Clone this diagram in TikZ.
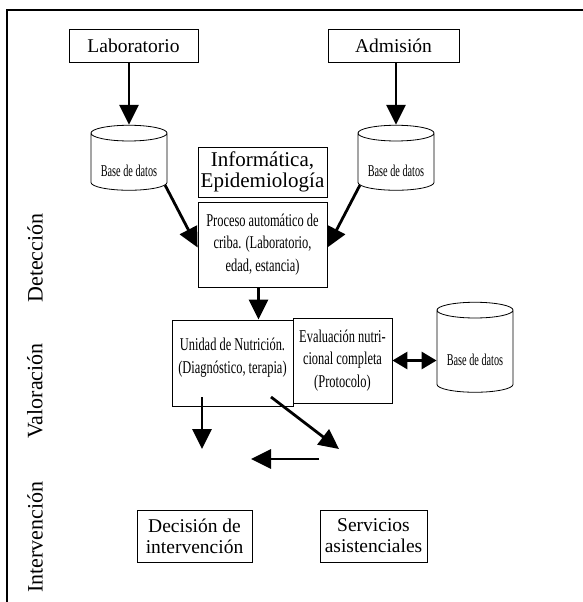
\documentclass[tikz,border=0pt]{standalone}
\usepackage{fontspec}
\setmainfont{Liberation Serif}
\newfontfamily\narrowfont{Liberation Serif}[FakeStretch=0.69]
\newfontfamily\dbfont{Liberation Serif}[FakeStretch=0.62]
\usetikzlibrary{shapes.geometric, arrows.meta}

\begin{document}
\begin{tikzpicture}[
    x=1pt, y=-1pt,
    box/.style={draw, rectangle, line width=0.8pt, align=center, inner sep=2pt},
    bigtext/.style={font=\fontsize{19.5}{21}\selectfont},
    smalltext/.style={font=\narrowfont\fontsize{18}{22.5}\selectfont},
    db/.style={draw, cylinder, shape border rotate=90, aspect=0.25, line width=0.8pt,
               minimum width=76pt, text height=26pt, font=\dbfont\fontsize{16.5}{18}\selectfont},
    side/.style={rotate=90, font=\fontsize{22}{23}\selectfont},
    arr/.style={line width=2.8pt, -{Triangle[length=20pt, width=19pt]}},
    darr/.style={line width=2.8pt, {Triangle[length=15pt, width=17pt]}-{Triangle[length=15pt, width=17pt]}}
]
    \useasboundingbox (0,0) rectangle (583,602);

    % frame
    \draw[line width=1.2pt] (583,10) -- (7,10) -- (7,602);

    % sources
    \node[box, bigtext, minimum width=129pt, minimum height=33pt] (lab) at (133.5,45.5) {Laboratorio};
    \node[box, bigtext, minimum width=131pt, minimum height=33pt] (adm) at (393.5,45.5) {Admisión};

    \node[db, minimum height=65pt] (db1) at (129,163.5) {Base de datos};
    \node[db, minimum height=65pt] (db2) at (396,163.5) {Base de datos};

    % detection
    \node[box, font=\fontsize{21}{21}\selectfont, minimum width=129pt, minimum height=50pt] (info) at (262.5,172)
        {Informática,\\Epidemiología};
    \node[box, smalltext, minimum width=129pt, minimum height=85pt] (proc) at (262.5,244.5)
        {Proceso automático de\\criba. (Laboratorio,\\edad, estancia)};

    % assessment
    \node[box, smalltext, minimum width=121pt, minimum height=86pt, text depth=15pt] (unidad) at (232.5,363)
        {Unidad de Nutrición.\\(Diagnóstico, terapia)};
    \node[box, smalltext, minimum width=99pt, minimum height=85pt] (eval) at (342.5,360.5)
        {Evaluación nutri-\\cional completa\\(Protocolo)};
    \node[db, minimum height=90pt] (db3) at (475,353) {Base de datos};

    % intervention
    \node[box, bigtext, minimum width=115pt, minimum height=52pt] (dec) at (194.5,536)
        {Decisión de\\intervención};
    \node[box, bigtext, minimum width=107pt, minimum height=52pt] (serv) at (373.5,536)
        {Servicios\\asistenciales};

    % phases
    \node[side] (det) at (35,258) {Detección};
    \node[side] (val) at (35,391) {Valoración};
    \node[side] (inter) at (35,537) {Intervención};

    % free arrow ends
    \coordinate (u1) at (202,397);
    \coordinate (u2) at (202,449);
    \coordinate (d1) at (271,397);
    \coordinate (d2) at (339,449);
    \coordinate (b1) at (319,459);
    \coordinate (b2) at (251,459);

    \draw[arr] (lab.south -| db1.north) -- (db1.north);
    \draw[arr] (adm.south -| db2.north) -- (db2.north);
    \draw[arr] (db1.-31) -- ([yshift=-3pt]proc.west);
    \draw[arr] (db2.211) -- ([yshift=-3pt]proc.east);
    \draw[arr] ([xshift=-4pt]proc.south) -- ([xshift=-4pt]proc.south |- unidad.north);
    \draw[darr] (eval.east) -- (eval.east -| db3.west);

    \draw[arr] (u1) -- (u2);
    \draw[arr] (d1) -- (d2);
    \draw[arr] (b1) -- (b2);

\end{tikzpicture}
\end{document}
